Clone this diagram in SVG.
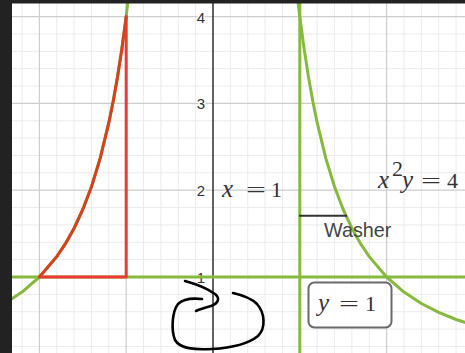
<svg xmlns="http://www.w3.org/2000/svg" width="465" height="353" viewBox="0 0 465 353">
<style>
.minor{stroke:#ebebeb;stroke-width:1;fill:none}
.major{stroke:#cdcdcd;stroke-width:1.2;fill:none}
.tick{font-family:"Liberation Sans",Arial,sans-serif;font-size:15px;fill:#333;text-anchor:end;stroke:#fff;stroke-width:3;paint-order:stroke}
.green{stroke:#86ba3f;stroke-width:3;fill:none;stroke-linecap:round;stroke-linejoin:round}
.red{stroke:#ee3a33;stroke-width:3;fill:none;stroke-linejoin:round}
.redc{stroke:#d7411f;stroke-width:3;fill:none;stroke-linecap:round}
.math{font-family:"Liberation Serif","Times New Roman",serif;font-size:22px;fill:#333}
.it{font-style:italic;font-size:25px}
.ink{stroke:#000;stroke-width:2.6;fill:none;stroke-linecap:round;stroke-linejoin:round}
</style>
<rect x="0" y="0" width="465" height="353" fill="#fff"/>
<g id="grid">
<path class="minor" d="M22.04,0V353M56.76,0V353M74.12,0V353M91.48,0V353M108.84,0V353M143.56,0V353M160.92,0V353M178.28,0V353M195.64,0V353M230.36,0V353M247.72,0V353M265.08,0V353M282.44,0V353M317.16,0V353M334.52,0V353M351.88,0V353M369.24,0V353M403.96,0V353M421.32,0V353M438.68,0V353M456.04,0V353M0,346.44H465M0,329.08H465M0,311.72H465M0,294.36H465M0,259.64H465M0,242.28H465M0,224.92H465M0,207.56H465M0,172.84H465M0,155.48H465M0,138.12H465M0,120.76H465M0,86.04H465M0,68.68H465M0,51.32H465M0,33.96H465"/>
<path class="major" d="M39.4,0V353M126.2,0V353M386.6,0V353M0,190.2H465M0,103.4H465M0,16.6H465"/>
</g>
<g id="axes">
<line x1="213" y1="0" x2="213" y2="353" stroke="#3a3a3a" stroke-width="1.6"/>
<text class="tick" x="205" y="22.6">4</text>
<text class="tick" x="205" y="109.4">3</text>
<text class="tick" x="205" y="196.2">2</text>
<text class="tick" x="205" y="283">1</text>
</g>
<g id="curves">
<line class="green" x1="0" y1="277" x2="465" y2="277"/>
<line class="green" x1="299.8" y1="0" x2="299.8" y2="353"/>
<polyline class="green" points="298.06,2.3 299.8,16.6 304.14,48.9 308.48,76.9 312.82,101.3 317.16,122.7 325.84,158.4 334.52,186.7 343.2,209.5 351.88,228.2 360.56,243.7 369.24,256.6 386.6,277 403.96,292.1 421.32,303.5 438.68,312.4 456.04,319.5 473.4,325.2"/>
<polyline class="green" points="127.94,0 126.2,16.6 121.86,48.9 117.52,76.9 113.18,101.3 108.84,122.7 100.16,158.4 91.48,186.7 82.8,209.5 74.12,228.2 65.44,243.7 56.76,256.6 39.4,277 22.04,292.1 4.68,303.5 -12.68,312.4"/>
</g>
<g id="region">
<polyline class="red" points="126.2,16.6 126.2,277 39.4,277"/>
<polyline class="redc" points="126.2,16.6 121.86,48.9 117.52,76.9 113.18,101.3 108.84,122.7 100.16,158.4 91.48,186.7 82.8,209.5 74.12,228.2 65.44,243.7 56.76,256.6 39.4,277"/>
</g>
<g id="label-x1">
<text class="math it" x="222" y="197">x</text>
<text class="math" x="246" y="197" textLength="20" lengthAdjust="spacingAndGlyphs">=</text>
<text class="math" x="271" y="197">1</text>
</g>
<g id="label-curve">
<text class="math it" x="378" y="188">x</text>
<text class="math" x="392" y="176" font-size="14px">2</text>
<text class="math it" x="402" y="188">y</text>
<text class="math" x="421" y="188" textLength="20" lengthAdjust="spacingAndGlyphs">=</text>
<text class="math" x="447" y="188">4</text>
</g>
<g id="washer">
<line x1="299" y1="215.7" x2="347" y2="215.7" stroke="#333" stroke-width="2"/>
<text x="324" y="236.7" font-family="'Liberation Sans',Arial,sans-serif" font-size="19.8px" fill="#444">Washer</text>
</g>
<g id="box-y1">
<rect x="308.5" y="282.5" width="83" height="45" rx="6" fill="#fff" fill-opacity="0.85" stroke="#6a6a6a" stroke-width="2"/>
<text class="math it" x="318" y="311">y</text>
<text class="math" x="339" y="311" textLength="20" lengthAdjust="spacingAndGlyphs">=</text>
<text class="math" x="365" y="311">1</text>
</g>
<g id="scribble">
<path class="ink" d="M185,281 C196,284 208,289 215,294 C220,298 219,303 211,306 C205,308 200,309 196,311"/>
<path class="ink" d="M202,299 C193,298 183,299 178,304 C172,312 171,330 175,340 C180,349 195,350 212,349 C230,348 248,344 258,336 C266,328 265,313 257,304 C251,298 242,295 233,293"/>
</g>
<g id="frame">
<rect x="0" y="0" width="12" height="353" fill="#222"/>
<rect x="0" y="0" width="465" height="3.5" fill="#222"/>
</g>
</svg>
